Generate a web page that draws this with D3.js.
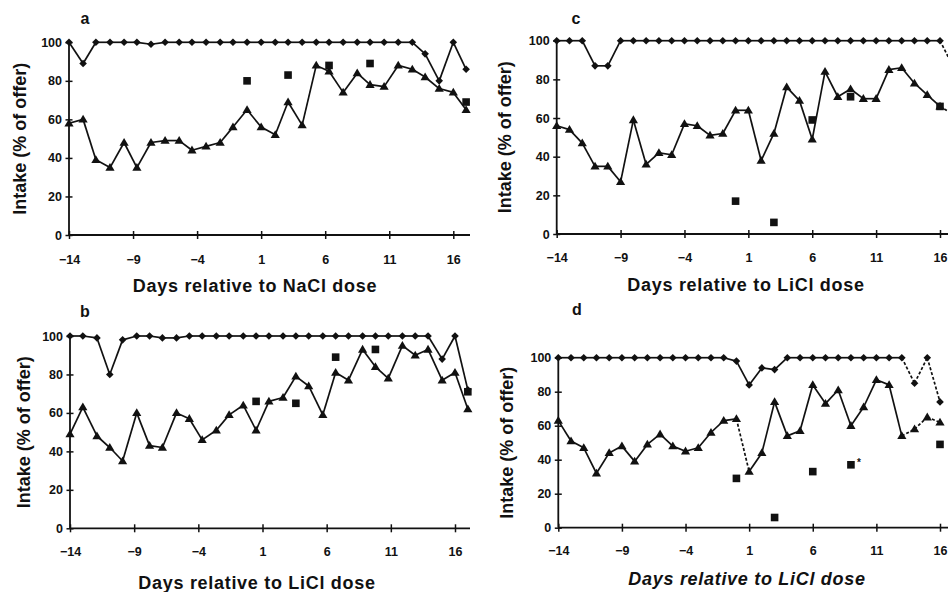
<!DOCTYPE html>
<html><head><meta charset="utf-8">
<script src="https://cdn.jsdelivr.net/npm/d3@7"></script>
<style>
body{margin:0;background:#fff;overflow:hidden;}
text{font-family:"Liberation Sans",Arial,sans-serif;font-weight:bold;fill:#111;}
</style></head><body><svg id="chart" width="948" height="592"></svg>
<script>
// ---------- data ----------
const tickDays = [-14, -9, -4, 1, 6, 11, 16];
const yTicks = [0, 20, 40, 60, 80, 100];

// panel a (NaCl)
const daysA = [-14, -12.9, -11.9, -10.8, -9.7, -8.7, -7.6, -6.5, -5.4, -4.4, -3.3, -2.2, -1.2, -0.1, 1, 2.1, 3.1, 4.2, 5.3, 6.3, 7.4, 8.5, 9.5, 10.6, 11.7, 12.8, 13.8, 14.9, 16, 17];
const diamondsA = [100, 89, 100, 100, 100, 100, 99, 100, 100, 100, 100, 100, 100, 100, 100, 100, 100, 100, 100, 100, 100, 100, 100, 100, 100, 100, 94, 80, 100, 86];
const trianglesA = [58, 60, 39, 35, 48, 35, 48, 49, 49, 44, 46, 48, 56, 65, 56, 52, 69, 57, 88, 85, 74, 84, 78, 77, 88, 86, 82, 76, 74, 65];
const squareDaysA = [-0.1, 3.1, 6.3, 9.5, 17];
const squaresA = [80, 83, 88, 89, 69];

// panel b (LiCl)
const daysB = [-14, -13, -11.9, -10.9, -9.9, -8.8, -7.8, -6.8, -5.7, -4.7, -3.7, -2.6, -1.6, -0.5, 0.5, 1.5, 2.6, 3.6, 4.6, 5.7, 6.7, 7.7, 8.8, 9.8, 10.8, 11.9, 12.9, 13.9, 15, 16, 17];
const diamondsB = [100, 100, 99, 80, 98, 100, 100, 99, 99, 100, 100, 100, 100, 100, 100, 100, 100, 100, 100, 100, 100, 100, 100, 100, 100, 100, 100, 100, 88, 100, 72];
const trianglesB = [49, 63, 48, 42, 35, 60, 43, 42, 60, 57, 46, 51, 59, 64, 51, 66, 68, 79, 74, 59, 81, 77, 93, 84, 78, 95, 90, 93, 77, 81, 62];
const squareDaysB = [0.5, 3.6, 6.7, 9.8, 17];
const squaresB = [66, 65, 89, 93, 71];

// panel c (LiCl)
const daysC = [-14, -13, -12, -11, -10, -9, -8, -7, -6, -5, -4, -3, -2, -1, 0, 1, 2, 3, 4, 5, 6, 7, 8, 9, 10, 11, 12, 13, 14, 15, 16, 17];
const diamondsC = [100, 100, 100, 87, 87, 100, 100, 100, 100, 100, 100, 100, 100, 100, 100, 100, 100, 100, 100, 100, 100, 100, 100, 100, 100, 100, 100, 100, 100, 100, 100, 87];
const trianglesC = [56, 54, 47, 35, 35, 27, 59, 36, 42, 41, 57, 56, 51, 52, 64, 64, 38, 52, 76, 69, 49, 84, 71, 75, 70, 70, 85, 86, 78, 72, 66, 62];
const squareDaysC = [0, 3, 6, 9, 16];
const squaresC = [17, 6, 59, 71, 66];

// panel d (LiCl)
const daysD = [-14, -13, -12, -11, -10, -9, -8, -7, -6, -5, -4, -3, -2, -1, 0, 1, 2, 3, 4, 5, 6, 7, 8, 9, 10, 11, 12, 13, 14, 15, 16];
const diamondsD = [100, 100, 100, 100, 100, 100, 100, 100, 100, 100, 100, 100, 100, 100, 98, 84, 94, 93, 100, 100, 100, 100, 100, 100, 100, 100, 100, 100, 85, 100, 74];
const trianglesD = [63, 51, 47, 32, 44, 48, 39, 49, 55, 48, 45, 47, 56, 63, 64, 33, 44, 74, 54, 57, 84, 73, 81, 60, 71, 87, 84, 54, 58, 65, 62];
const squareDaysD = [0, 3, 6, 9, 16];
const squaresD = [29, 6, 33, 37, 49];

const panelLetters = ["a", "b", "c", "d"];
const xLabels = ["Days relative to NaCl dose", "Days relative to LiCl dose", "Days relative to LiCl dose", "Days relative to LiCl dose"];
const yLabel = "Intake (% of offer)";

// ---------- layout ----------
const panels = [
  {letter: panelLetters[0], xLabel: xLabels[0], days: daysA, dia: diamondsA, tri: trianglesA, sqD: squareDaysA, sqV: squaresA,
   x0: 69, x16: 453.3, xEnd: 470, y0: 235, y100: 42.3, lx: 85, ly: 18, ylx: 20, xty: 260, xlx: 255, xly: 286, italic: false,
   dashDia: [], dashTri: [], star: null},
  {letter: panelLetters[1], xLabel: xLabels[1], days: daysB, dia: diamondsB, tri: trianglesB, sqD: squareDaysB, sqV: squaresB,
   x0: 70, x16: 455, xEnd: 470, y0: 528.3, y100: 336, lx: 85, ly: 311, ylx: 24, xty: 552, xlx: 257, xly: 583, italic: false,
   dashDia: [], dashTri: [], star: null},
  {letter: panelLetters[2], xLabel: xLabels[2], days: daysC, dia: diamondsC, tri: trianglesC, sqD: squareDaysC, sqV: squaresC,
   x0: 556.7, x16: 940, xEnd: 960, y0: 234, y100: 40.7, lx: 576, ly: 18, ylx: 505, xty: 258, xlx: 746, xly: 285, italic: false,
   dashDia: [16], dashTri: [16], star: null},
  {letter: panelLetters[3], xLabel: xLabels[3], days: daysD, dia: diamondsD, tri: trianglesD, sqD: squareDaysD, sqV: squaresD,
   x0: 558.3, x16: 940, xEnd: 960, y0: 527.7, y100: 357.7, lx: 577, ly: 309, ylx: 507, xty: 551, xlx: 747, xly: 579, italic: true,
   dashDia: [13, 14, 15], dashTri: [0, 13, 14, 15], star: 3}
];

const svg = d3.select("#chart");
svg.append("rect").attr("width", 948).attr("height", 592).attr("fill", "#fff");
const ink = "#111";

panels.forEach(p => {
  const g = svg.append("g");
  const x = d3.scaleLinear().domain([-14, 16]).range([p.x0, p.x16]);
  const y = d3.scaleLinear().domain([0, 100]).range([p.y0, p.y100]);

  // axes lines
  g.append("line").attr("x1", p.x0).attr("x2", p.x0).attr("y1", y(0)).attr("y2", y(100))
    .attr("stroke", ink).attr("stroke-width", 1.8);
  g.append("line").attr("x1", p.x0).attr("x2", p.xEnd).attr("y1", y(0)).attr("y2", y(0))
    .attr("stroke", ink).attr("stroke-width", 1.8);

  // y axis ticks via d3 axis
  const ya = g.append("g").attr("transform", `translate(${p.x0},0)`)
    .call(d3.axisLeft(y).tickValues(yTicks).tickSize(3).tickPadding(4).tickSizeOuter(0));
  ya.select(".domain").remove();
  ya.selectAll(".tick line").attr("x1", -3.5).attr("x2", 3.5).attr("stroke", ink).attr("stroke-width", 1.5);
  ya.selectAll(".tick text").attr("x", -7).attr("font-size", 12.5).attr("font-family", null).attr("fill", ink);

  // x axis ticks
  const xa = g.append("g").attr("transform", `translate(0,${y(0)})`)
    .call(d3.axisBottom(x).tickValues(tickDays).tickSize(4).tickSizeOuter(0));
  xa.select(".domain").remove();
  xa.selectAll(".tick line").attr("y1", -4).attr("y2", 4).attr("stroke", ink).attr("stroke-width", 1.5);
  xa.selectAll(".tick text").attr("y", p.xty - y(0)).attr("dy", "0.35em").attr("font-size", 12.5).attr("font-family", null).attr("fill", ink);

  // labels
  g.append("text").attr("x", p.lx).attr("y", p.ly).attr("text-anchor", "middle").attr("dominant-baseline", "central")
    .attr("font-size", 16).text(p.letter);
  g.append("text").attr("x", p.xlx).attr("y", p.xly).attr("text-anchor", "middle").attr("dominant-baseline", "central")
    .attr("font-size", 18).attr("letter-spacing", 0.7).attr("font-style", p.italic ? "italic" : "normal").text(p.xLabel);
  g.append("text").attr("transform", `translate(${p.ylx},${(y(0) + y(100)) / 2}) rotate(-90)`)
    .attr("text-anchor", "middle").attr("dominant-baseline", "central").attr("font-size", 18).text(yLabel);

  // series lines (segment by segment for dashed parts)
  function drawSeries(vals, dashList) {
    const pts = p.days.map((d, i) => [d, vals[i]]);
    d3.pairs(pts).forEach(([a, b]) => {
      const dashed = dashList.some(dd => Math.abs(dd - a[0]) < 0.01);
      g.append("line").attr("x1", x(a[0])).attr("y1", y(a[1])).attr("x2", x(b[0])).attr("y2", y(b[1]))
        .attr("stroke", ink).attr("stroke-width", 1.7)
        .attr("stroke-dasharray", dashed ? "3,2" : null);
    });
  }
  drawSeries(p.dia, p.dashDia);
  drawSeries(p.tri, p.dashTri);

  // diamonds
  g.selectAll(null).data(p.days.map((d, i) => [d, p.dia[i]])).enter().append("path")
    .attr("transform", d => `translate(${x(d[0])},${y(d[1])})`)
    .attr("d", "M0,-3.8L3.8,0L0,3.8L-3.8,0Z").attr("fill", ink);
  // triangles
  g.selectAll(null).data(p.days.map((d, i) => [d, p.tri[i]])).enter().append("path")
    .attr("transform", d => `translate(${x(d[0])},${y(d[1])})`)
    .attr("d", "M0,-4.6L4.6,3.2L-4.6,3.2Z").attr("fill", ink);
  // squares
  g.selectAll(null).data(p.sqD.map((d, i) => [d, p.sqV[i]])).enter().append("rect")
    .attr("x", d => x(d[0]) - 3.8).attr("y", d => y(d[1]) - 3.8).attr("width", 7.6).attr("height", 7.6)
    .attr("fill", ink);
  if (p.star !== null) {
    g.append("text").attr("x", x(p.sqD[p.star]) + 6).attr("y", y(p.sqV[p.star]) + 1)
      .attr("font-size", 10).text("*");
  }
});
</script></body></html>
